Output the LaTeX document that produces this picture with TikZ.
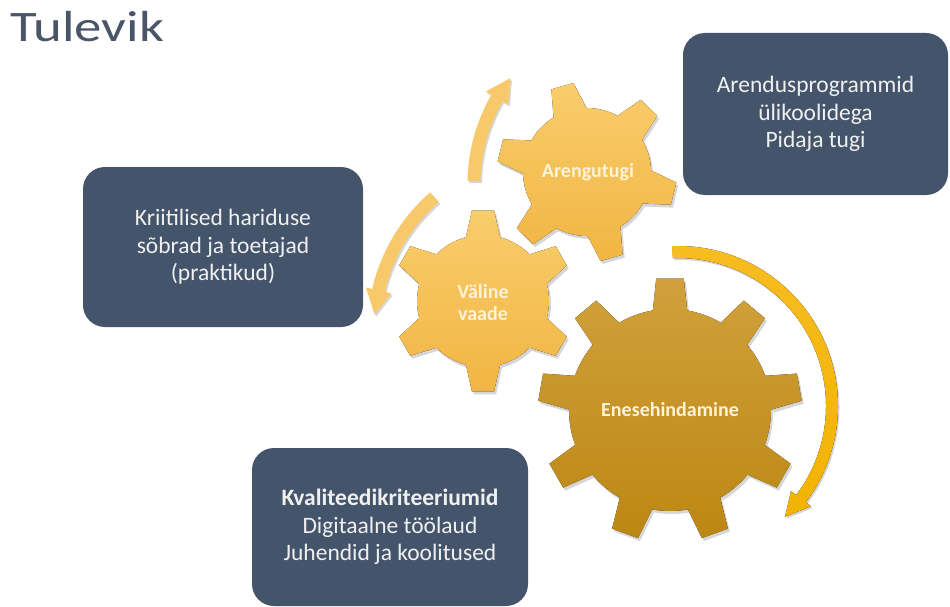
\documentclass[tikz,border=0pt]{standalone}
\usepackage{fontspec}
\setmainfont{Carlito}
\usepackage{graphicx}
\definecolor{slate}{HTML}{44546A}
\definecolor{titlecol}{HTML}{4A5568}
\definecolor{goldlt}{HTML}{F9CD6C}
\definecolor{goldlt2}{HTML}{F1B543}
\definecolor{golddk}{HTML}{D0A13C}
\definecolor{golddk2}{HTML}{BC8713}
\definecolor{arrowlt}{HTML}{F8C96B}
\definecolor{arrowbr}{HTML}{F7BC22}
\definecolor{arrowbr2}{HTML}{F2B300}
\definecolor{cream}{HTML}{FFF3D8}
\tikzset{
  infobox/.style={fill=slate, rounded corners=22pt, text=white!94!black, align=center,
    inner sep=0pt, font=\fontsize{23.5}{27.5}\selectfont},
  gearlabel/.style={text=cream, align=center, font=\bfseries\fontsize{20}{22}\selectfont, inner sep=0pt},
  smallgear/.style={top color=goldlt, bottom color=goldlt2},
  biggear/.style={top color=golddk, bottom color=golddk2},
  gshadow/.style={fill=black, opacity=0.16},
  lightarrow/.style={fill=arrowlt},
  brightarrow/.style={top color=arrowbr, bottom color=arrowbr2},
}
% r R n a0 hb ht
\newcommand\gearpath[6]{%
  ({#4-#5}:#1) \foreach \k in {1,...,#3}{
    -- ({#4+(\k-1)*360/#3-#6}:#2) -- ({#4+(\k-1)*360/#3+#6}:#2)
    -- ({#4+(\k-1)*360/#3+#5}:#1)
    arc[start angle={#4+(\k-1)*360/#3+#5}, end angle={#4+\k*360/#3-#5}, radius=#1]
  } -- cycle}
% style cx cy r R n a0 hb ht
\newcommand\drawgear[9]{%
  \begin{scope}[shift={({#2+2},{#3+3})},yscale=-1]
    \fill[gshadow] \gearpath{#4}{#5}{#6}{#7}{#8}{#9};
  \end{scope}
  \begin{scope}[shift={(#2,#3)},yscale=-1]
    \fill[#1] \gearpath{#4}{#5}{#6}{#7}{#8}{#9};
  \end{scope}}
% r hw a1 a2 a3 hh
\newcommand\arrowpath[6]{%
  (#3:{#1+#2}) arc[start angle=#3, end angle=#4, radius={#1+#2}]
  -- (#4:{#1+#6}) -- (#5:#1) -- (#4:{#1-#6}) -- (#4:{#1-#2})
  arc[start angle=#4, end angle=#3, radius={#1-#2}] -- cycle}
% style cx cy r hw a1 a2 a3 hh
\newcommand\circarrow[9]{%
  \begin{scope}[shift={({#2+1.5},{#3+2})},yscale=-1]
    \fill[gshadow] \arrowpath{#4}{#5}{#6}{#7}{#8}{#9};
  \end{scope}
  \begin{scope}[shift={(#2,#3)},yscale=-1]
    \fill[#1] \arrowpath{#4}{#5}{#6}{#7}{#8}{#9};
  \end{scope}}
\begin{document}
\begin{tikzpicture}[x=1pt,y=1pt,yscale=-1]
\useasboundingbox (0,0) rectangle (950,607);
\fill[white] (0,0) rectangle (950,607);

% title
\node[anchor=base west, text=titlecol, inner sep=0pt] (title) at (10,42)
  {\scalebox{1.26}[1]{\fontsize{43.5}{50}\selectfont Tulevik}};

% circular arrows
\circarrow{lightarrow}{646}{184}{172}{6.5}{179}{150}{142}{13}
\circarrow{lightarrow}{550}{330}{176}{6.5}{131}{167}{175}{13}
\circarrow{brightarrow}{678}{406}{154}{6}{92}{-37}{-46}{12.5}

% gears
\drawgear{smallgear}{483}{301}{66}{91}{6}{90}{15}{7}
\drawgear{smallgear}{587}{172}{64}{90}{6}{106}{15.5}{7.3}
\drawgear{biggear}{670}{410}{101}{132}{9}{90}{9.8}{6}

\node[gearlabel] (valine) at (483,303) {Väline\\vaade};
\node[gearlabel] (arengutugi) at (588,172) {Arengutugi};
\node[gearlabel] (enese) at (670,410) {Enesehindamine};

% boxes
\node[infobox, minimum width=265pt, minimum height=162pt] (boxA) at (815.5,114)
  {Arendusprogrammid\\ülikoolidega\\Pidaja tugi};
\node[infobox, minimum width=280pt, minimum height=160pt] (boxB) at (223,247)
  {Kriitilised hariduse\\sõbrad ja toetajad\\(praktikud)};
\node[infobox, minimum width=276pt, minimum height=158pt] (boxC) at (390,527)
  {\textbf{Kvaliteedikriteeriumid}\\Digitaalne töölaud\\Juhendid ja koolitused};
\end{tikzpicture}
\end{document}
